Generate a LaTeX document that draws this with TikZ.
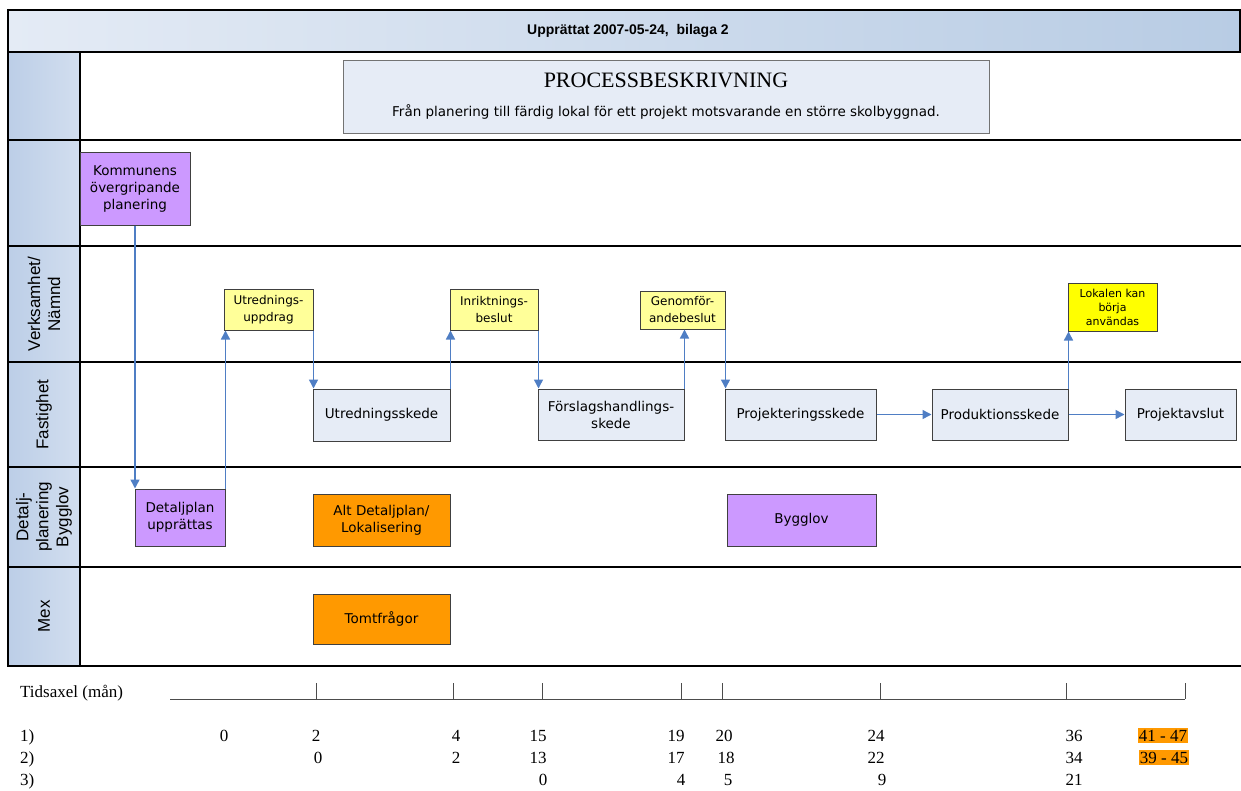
\documentclass[tikz,border=0pt]{standalone}
\usepackage{fontspec}
\setmainfont{Liberation Serif}
\newfontfamily\boxfont{DejaVu Sans}
\newfontfamily\arialfont{Liberation Sans}
\usetikzlibrary{arrows.meta}
\definecolor{hdrL}{HTML}{E4EBF5}
\definecolor{hdrR}{HTML}{B8CCE4}
\definecolor{colL}{HTML}{BCCEE7}
\definecolor{colR}{HTML}{D2DEEF}
\definecolor{paleblue}{HTML}{E6ECF6}
\definecolor{lilac}{HTML}{CC99FF}
\definecolor{lyellow}{HTML}{FFFF99}
\definecolor{byellow}{HTML}{FFFF00}
\definecolor{orangebox}{HTML}{FF9900}
\definecolor{arrowblue}{HTML}{4F7EC4}
\definecolor{boxedge}{HTML}{404040}
\begin{document}
\begin{tikzpicture}[x=1pt,y=-1pt,
  boxbase/.style={draw=boxedge, line width=1pt, align=center, inner sep=1pt,
    font=\boxfont\fontsize{13.5}{17}\selectfont},
  phase/.style={boxbase, fill=paleblue},
  purplebox/.style={boxbase, fill=lilac},
  decision/.style={boxbase, fill=lyellow, font=\boxfont\fontsize{12}{17}\selectfont},
  bdecision/.style={boxbase, fill=byellow, font=\boxfont\fontsize{11}{14}\selectfont},
  orangeb/.style={boxbase, fill=orangebox},
  lanelabel/.style={rotate=90, align=center, font=\arialfont\fontsize{17}{20}\selectfont},
  flow/.style={draw=arrowblue, line width=1.5pt, -{Triangle[length=9pt,width=9pt]}},
  laneline/.style={line width=2.5pt, black},
  tl/.style={font=\fontsize{17}{20}\selectfont, anchor=base, inner sep=0pt},
  tick/.style={line width=0.8pt, black!70}
]
\useasboundingbox (0,0) rectangle (1241,790);
% header band
\shade[left color=hdrL, right color=hdrR] (8,10) rectangle (1241,52);
\node[font=\arialfont\bfseries\fontsize{14}{16}\selectfont] (hdr) at (628,31) {Upprättat 2007-05-24, \ bilaga 2};
% left column cells
\foreach \ya/\yb in {52/140,140/246,246/362,362/467,467/567,567/666}{
  \shade[left color=colL, right color=colR] (8,\ya) rectangle (80,\yb);
}
% lane lines
\foreach \yy in {52,140,246,362,467,567,666}{
  \draw[laneline] (8,\yy) -- (1241,\yy);
}
\draw[laneline] (8,10) -- (1241,10);
\draw[laneline] (8,8.75) -- (8,667.25);
\draw[laneline] (80,52) -- (80,667.25);
\draw[laneline] (1240,8.75) -- (1240,52);
% lane labels
\node[lanelabel] (l1) at (44,304) {Verksamhet/\\Nämnd};
\node[lanelabel] (l2) at (44,414.5) {Fastighet};
\node[lanelabel] (l3) at (44,517) {Detalj-\\planering\\Bygglov};
\node[lanelabel] (l4) at (44,616.5) {Mex};
% title
\node[draw=black!55, line width=1pt, fill=paleblue, minimum width=646pt, minimum height=73pt, align=center, inner sep=0pt] (title) at (666,96.5)
  {{\fontsize{22}{24}\selectfont PROCESSBESKRIVNING}\\[16pt]
   {\boxfont\fontsize{13.5}{15}\selectfont Från planering till färdig lokal för ett projekt motsvarande en större skolbyggnad.}};
% boxes
\node[purplebox, minimum width=110pt, minimum height=73pt] (komm) at (135,188.5) {Kommunens\\övergripande\\planering};
\node[decision, minimum width=89pt, minimum height=41pt] (uppdrag) at (268.5,309.5) {Utrednings-\\uppdrag};
\node[decision, minimum width=88pt, minimum height=41pt] (inrikt) at (494,309.5) {Inriktnings-\\beslut};
\node[decision, minimum width=85pt, minimum height=38pt] (genomf) at (682.5,310) {Genomför-\\andebeslut};
\node[bdecision, minimum width=89pt, minimum height=48pt] (lokal) at (1112.5,307) {Lokalen kan\\börja\\användas};
\node[phase, minimum width=137pt, minimum height=52pt] (utred) at (381.5,415) {Utredningsskede};
\node[phase, minimum width=146pt, minimum height=51pt] (forslag) at (611,414.5) {Förslagshandlings-\\skede};
\node[phase, minimum width=151pt, minimum height=51pt] (projekt) at (800.5,414.5) {Projekteringsskede};
\node[phase, minimum width=136pt, minimum height=51pt] (prod) at (1000,414.5) {Produktionsskede};
\node[phase, minimum width=111pt, minimum height=51pt] (avslut) at (1180.5,414.5) {Projektavslut};
\node[purplebox, minimum width=90pt, minimum height=57pt] (dplan) at (180,517.5) {Detaljplan\\upprättas};
\node[orangeb, minimum width=137pt, minimum height=52pt] (altdp) at (381.5,520) {Alt Detaljplan/\\Lokalisering};
\node[purplebox, minimum width=149pt, minimum height=52pt] (bygglov) at (801.5,520) {Bygglov};
\node[orangeb, minimum width=137pt, minimum height=50pt] (tomt) at (381.5,619) {Tomtfrågor};
% connectors
\draw[flow] (komm.south) -- (komm.south |- dplan.north);
\draw[flow] (dplan.north east) -- (dplan.north east |- uppdrag.south);
\draw[flow] (uppdrag.south east) -- (uppdrag.south east |- utred.north);
\draw[flow] (utred.north east) -- (utred.north east |- inrikt.south);
\draw[flow] (inrikt.south east) -- (inrikt.south east |- forslag.north);
\draw[flow] (forslag.north east) -- (forslag.north east |- genomf.south);
\draw[flow] (genomf.south east) -- (genomf.south east |- projekt.north);
\draw[flow] (projekt.east) -- (prod.west);
\draw[flow] (prod.east) -- (avslut.west);
\draw[flow] (prod.north east) -- (prod.north east |- lokal.south);
% time axis
\node[tl, anchor=base west] (tax) at (20,697) {Tidsaxel (mån)};
\coordinate (axA) at (170,699);
\coordinate (axB) at (1185,699);
\draw[tick] (axA) -- (axB);
\foreach \tx in {316,453,542,681,722,880,1066,1185}{
  \draw[tick] (\tx,683) -- (\tx,699);
}
\node[tl, anchor=base west] (r1) at (20,741) {1)};
\node[tl, anchor=base west] (r2) at (20,763) {2)};
\node[tl, anchor=base west] (r3) at (20,785) {3)};
% row 1
\node[tl] (a1) at (224,741) {0};
\node[tl] (a2) at (316,741) {2};
\node[tl] (a3) at (456,741) {4};
\node[tl] (a4) at (538,741) {15};
\node[tl] (a5) at (676,741) {19};
\node[tl] (a6) at (724,741) {20};
\node[tl] (a7) at (876,741) {24};
\node[tl] (a8) at (1074,741) {36};
\node[tl, fill=orangebox, inner xsep=1pt, inner ysep=2pt] (a9) at (1163,741) {41 - 47};
% row 2
\node[tl] (b1) at (318,763) {0};
\node[tl] (b2) at (456,763) {2};
\node[tl] (b3) at (538,763) {13};
\node[tl] (b4) at (676,763) {17};
\node[tl] (b5) at (726,763) {18};
\node[tl] (b6) at (876,763) {22};
\node[tl] (b7) at (1074,763) {34};
\node[tl, fill=orangebox, inner xsep=1pt, inner ysep=2pt] (b8) at (1164,763) {39 - 45};
% row 3
\node[tl] (c1) at (543,785) {0};
\node[tl] (c2) at (681,785) {4};
\node[tl] (c3) at (728,785) {5};
\node[tl] (c4) at (882,785) {9};
\node[tl] (c5) at (1074,785) {21};
\end{tikzpicture}
\end{document}
